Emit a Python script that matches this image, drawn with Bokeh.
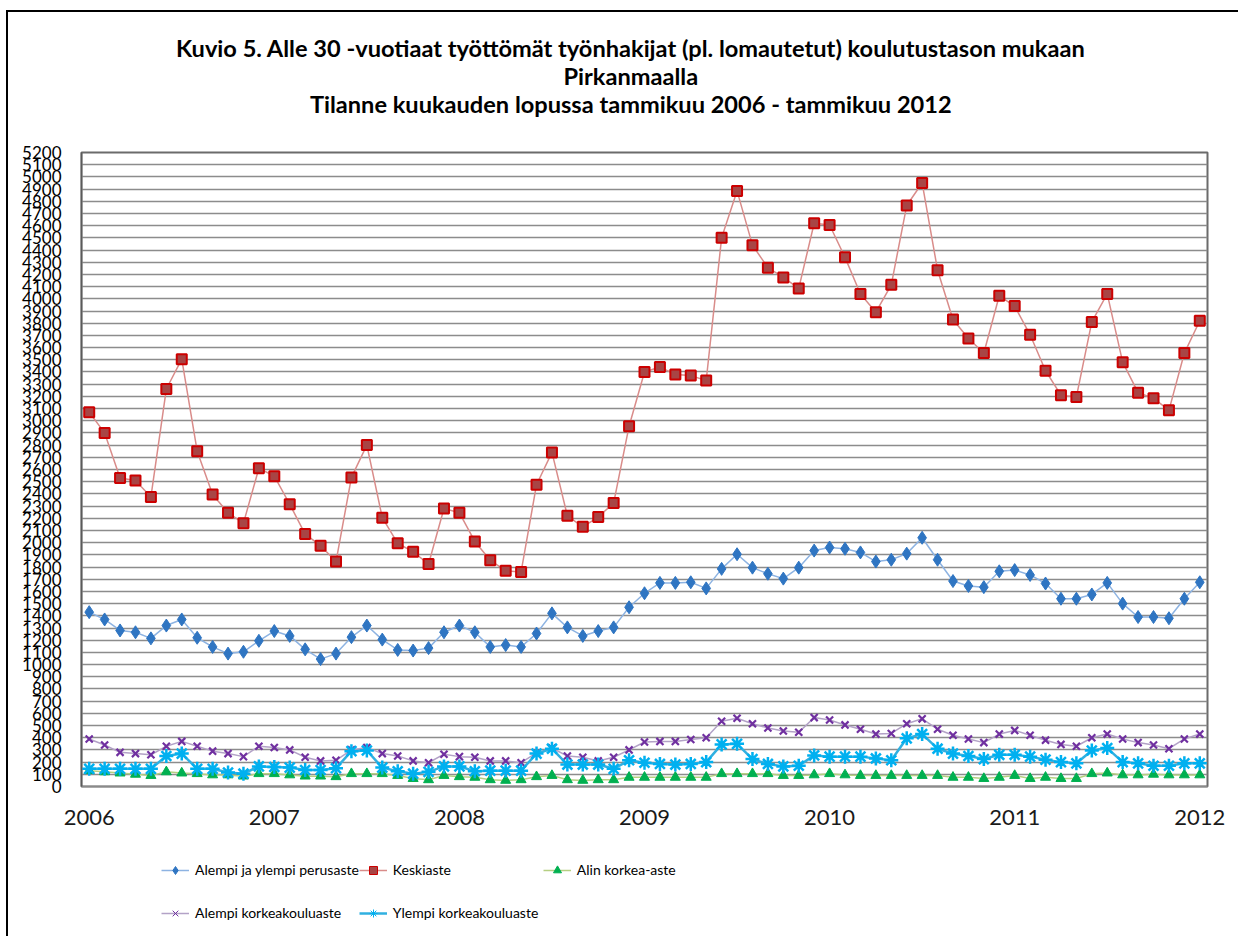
from bokeh.plotting import figure
from bokeh.models import (Range1d, FixedTicker, Legend, LegendItem)
from bokeh.layouts import column
from bokeh.core.properties import value
from bokeh.embed import file_html
from bokeh.resources import INLINE

# ---------------- data (monthly, tammikuu 2006 - tammikuu 2012) ----------------
year_labels = ["2006", "2007", "2008", "2009", "2010", "2011", "2012"]

perusaste = [1430, 1370, 1280, 1265, 1215, 1320, 1370, 1220, 1145, 1090,
             1105, 1195, 1275, 1235, 1125, 1045, 1090, 1225, 1320, 1205,
             1120, 1115, 1135, 1265, 1320, 1265, 1145, 1160, 1145, 1255,
             1420, 1305, 1235, 1275, 1305, 1470, 1585, 1670, 1670, 1675,
             1625, 1785, 1905, 1795, 1745, 1705, 1795, 1935, 1960, 1950,
             1920, 1845, 1860, 1910, 2040, 1860, 1685, 1645, 1635, 1765,
             1775, 1735, 1665, 1540, 1540, 1575, 1670, 1500, 1390, 1390,
             1380, 1540, 1675]

keskiaste = [3070, 2900, 2530, 2510, 2375, 3260, 3505, 2750, 2395, 2245,
             2160, 2610, 2545, 2315, 2070, 1975, 1845, 2535, 2800, 2205,
             1995, 1925, 1825, 2280, 2245, 2010, 1855, 1770, 1760, 2475,
             2740, 2220, 2130, 2210, 2325, 2955, 3400, 3440, 3380, 3370,
             3330, 4500, 4885, 4440, 4255, 4175, 4085, 4620, 4605, 4340,
             4040, 3890, 4115, 4765, 4950, 4235, 3830, 3675, 3555, 4025,
             3940, 3705, 3410, 3210, 3195, 3810, 4040, 3480, 3230, 3185,
             3085, 3555, 3820]

alin_korkea = [130, 120, 110, 100, 90, 120, 110, 105, 95, 95,
               85, 105, 105, 95, 85, 85, 80, 105, 105, 105,
               90, 65, 55, 90, 80, 75, 55, 50, 55, 80,
               90, 55, 50, 55, 55, 75, 75, 75, 75, 75,
               75, 105, 105, 105, 105, 90, 90, 95, 105, 95,
               90, 90, 90, 90, 90, 90, 75, 75, 65, 75,
               90, 65, 75, 65, 65, 105, 110, 95, 95, 100,
               95, 95, 95]

alempi_kk = [390, 340, 280, 270, 260, 330, 370, 330, 290, 270,
             245, 330, 320, 300, 240, 210, 215, 300, 320, 270,
             250, 210, 195, 265, 245, 240, 210, 210, 195, 275,
             315, 250, 240, 210, 240, 300, 365, 370, 370, 385,
             400, 535, 560, 515, 480, 455, 445, 565, 545, 505,
             470, 430, 435, 515, 555, 470, 420, 390, 360, 430,
             460, 420, 380, 345, 330, 400, 430, 390, 360, 340,
             310, 390, 430]

ylempi_kk = [145, 145, 145, 145, 145, 250, 270, 145, 145, 115,
             105, 165, 160, 155, 135, 135, 150, 290, 295, 155,
             125, 105, 120, 165, 165, 125, 130, 130, 130, 270,
             310, 180, 180, 180, 145, 215, 195, 185, 180, 185,
             200, 345, 350, 225, 185, 165, 170, 255, 245, 245,
             245, 230, 215, 395, 430, 310, 270, 250, 225, 260,
             260, 245, 220, 200, 190, 295, 315, 200, 190, 170,
             170, 190, 190]

series_names = ["Alempi ja ylempi perusaste", "Keskiaste", "Alin korkea-aste",
                "Alempi korkeakouluaste", "Ylempi korkeakouluaste"]

title_lines = ["Kuvio 5. Alle 30 -vuotiaat työttömät työnhakijat (pl. lomautetut) koulutustason mukaan",
               "Pirkanmaalla",
               "Tilanne kuukauden lopussa tammikuu 2006 - tammikuu 2012"]

months = list(range(len(perusaste)))
FONT = "Lato"
W = 1230
X0, Y0 = 8, 12          # page offset of the content (margin + frame border)
TITLE_H = 126

# ---------------- title strip ----------------
pt = figure(width=W, height=TITLE_H, output_backend="svg", toolbar_location=None,
            x_range=Range1d(X0, X0 + W), y_range=Range1d(Y0 + TITLE_H, Y0),
            x_axis_type=None, y_axis_type=None, min_border=0)
pt.outline_line_color = None
pt.grid.grid_line_color = None
pt.text(x=[608, 608, 608], y=[47, 75, 103], text=title_lines,
        text_font=value(FONT), text_font_size="23.6px", text_font_style="bold",
        text_color="black", text_align="center", text_baseline="middle")

# ---------------- main chart ----------------
p = figure(width=W, height=698, output_backend="svg", toolbar_location=None,
           x_range=Range1d(-0.5, len(months) - 0.5), y_range=Range1d(0, 5200),
           min_border_left=73, min_border_right=31, min_border_top=14,
           min_border_bottom=50)

p.outline_line_color = "#6b6b6b"
p.outline_line_width = 2
p.background_fill_color = "white"
p.border_fill_color = "white"

p.xgrid.grid_line_color = None
p.ygrid.ticker = FixedTicker(ticks=list(range(0, 5201, 100)))
p.ygrid.grid_line_color = "#8c8c8c"
p.ygrid.grid_line_width = 1.4

p.yaxis.ticker = FixedTicker(ticks=list(range(0, 5201, 100)))
p.yaxis.major_label_text_font = FONT
p.yaxis.major_label_text_font_size = "17px"
p.yaxis.major_label_text_color = "black"
p.yaxis.major_tick_line_color = None
p.yaxis.major_tick_out = 0
p.yaxis.major_tick_in = 0
p.yaxis.minor_tick_line_color = None
p.yaxis.major_label_standoff = 20
p.yaxis.axis_line_color = "#5a5a5a"
p.yaxis.axis_line_width = 1.5

xt = list(range(0, len(months), 12))
p.xaxis.ticker = FixedTicker(ticks=xt)
p.xaxis.major_label_overrides = {t: lab for t, lab in zip(xt, year_labels)}
p.xaxis.major_label_text_font = FONT
p.xaxis.major_label_text_font_size = "22px"
p.xaxis.major_label_text_color = "#1a1a1a"
p.xaxis.major_tick_line_color = None
p.xaxis.major_tick_out = 0
p.xaxis.major_tick_in = 0
p.xaxis.minor_tick_line_color = None
p.xaxis.major_label_standoff = 23
p.xaxis.axis_line_color = "#8a8a8a"
p.xaxis.axis_line_width = 1.5

styles = [
    (perusaste, "#8db3e2", 1.5, "diamond", 13, "#2f75c2", "#2f75c2", 1),
    (keskiaste, "#d98c8a", 1.5, "square", 10, "#a84545", "#cc0000", 2),
    (alin_korkea, "#b5cf82", 1.5, "triangle", 10, "#00b050", "#00b050", 1),
    (alempi_kk, "#b3a2c7", 1.5, "x", 10, "#7030a0", "#7030a0", 2.2),
    (ylempi_kk, "#31b0e0", 2.5, "asterisk", 14, "#00b0f0", "#00b0f0", 2.5),
]

for vals, lc, lw, mk, ms, mf, ml, mlw in styles:
    p.line(months, vals, line_color=lc, line_width=lw)
    p.scatter(months, vals, marker=mk, size=ms, fill_color=mf,
              line_color=ml, line_width=mlw)

# ---------------- legend strip ----------------
pl = figure(width=W, height=100, output_backend="svg", toolbar_location=None,
            x_range=Range1d(0, 1), y_range=Range1d(0, 1),
            x_axis_type=None, y_axis_type=None, min_border=0)
pl.outline_line_color = None
pl.grid.grid_line_color = None
items = []
for name, (vals, lc, lw, mk, ms, mf, ml, mlw) in zip(series_names, styles):
    # off-screen proxies: only their styling is used for the legend glyphs
    r1 = pl.line([-2, -1], [-2, -1], line_color=lc, line_width=lw)
    r2 = pl.scatter([-2], [-2], marker=mk, size=ms * 0.75, fill_color=mf,
                    line_color=ml, line_width=1)
    items.append(LegendItem(label=name, renderers=[r1, r2]))

legend = Legend(items=items, ncols=3, orientation="horizontal", location=(80, 2),
                label_text_font=FONT, label_text_font_size="14px",
                label_text_color="black", glyph_width=28, glyph_height=20,
                label_width=150, label_height=43, label_standoff=6,
                spacing=0, padding=0, margin=0, border_line_color=None,
                background_fill_alpha=0)
pl.add_layout(legend, "center")

layout = column(pt, p, pl, spacing=0,
                styles={"margin-left": "6px", "margin-top": "10px",
                        "border-left": "2px solid black",
                        "border-top": "2px solid black"})

open("out.html", "w").write(file_html(layout, INLINE))
